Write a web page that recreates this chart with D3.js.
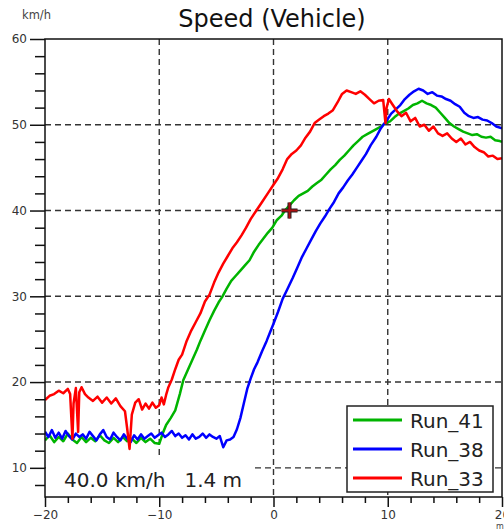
<!DOCTYPE html>
<html>
<head>
<meta charset="utf-8">
<script src="https://cdn.jsdelivr.net/npm/d3@7"></script>
<style>
    html, body { margin: 0; padding: 0; background: #fff; }
    svg { display: block; }
    text { font-family: "DejaVu Sans", Verdana, sans-serif; fill: #222; }
</style>
</head>
<body>
<div id="chart"></div>
<script>
// values: [distance m, speed km/h]
const run41 = [
    [-20, 13.2], [-19.6, 13.8], [-19.2, 13.0], [-18.8, 13.6], [-18.4, 13.1], [-18.0, 14.0], [-17.6, 13.3],
    [-17.2, 12.9], [-16.8, 13.6], [-16.4, 13.0], [-16.0, 13.5], [-15.6, 13.1], [-15.2, 13.8], [-14.8, 13.2],
    [-14.4, 12.9], [-14.0, 13.5], [-13.6, 13.0], [-13.2, 13.6], [-12.8, 13.1], [-12.4, 13.4], [-12.0, 12.9],
    [-11.6, 13.5], [-11.2, 13.0], [-10.8, 13.4], [-10.4, 12.9], [-10.0, 12.8], [-9.7, 14.0], [-9.4, 15.0],
    [-9.0, 15.8], [-8.6, 16.7], [-8.2, 18.6], [-7.9, 20.2], [-7.5, 21.4], [-7.1, 22.6], [-6.7, 23.8],
    [-6.4, 24.8], [-6.0, 26.0], [-5.6, 27.2], [-5.2, 28.3], [-4.8, 29.3], [-4.5, 29.9], [-4.1, 30.9],
    [-3.7, 31.8], [-3.3, 32.4], [-2.9, 33.0], [-2.5, 33.6], [-2.1, 34.2], [-1.7, 35.2], [-1.3, 36.0],
    [-0.9, 36.7], [-0.5, 37.4], [-0.1, 38.0], [0.3, 38.9], [0.7, 39.4], [1.0, 40.0], [1.4, 40.6],
    [1.8, 41.2], [2.2, 41.7], [2.6, 42.0], [3.0, 42.3], [3.4, 42.8], [3.8, 43.2], [4.2, 43.6],
    [4.6, 44.2], [5.0, 44.8], [5.4, 45.3], [5.8, 45.9], [6.2, 46.4], [6.6, 47.0], [7.0, 47.6],
    [7.4, 48.1], [7.8, 48.6], [8.2, 48.9], [8.6, 49.2], [9.0, 49.5], [9.4, 49.8], [9.8, 50.2],
    [10.2, 50.4], [10.6, 50.9], [11.0, 51.3], [11.4, 51.6], [11.8, 51.9], [12.2, 52.3], [12.6, 52.5],
    [13.0, 52.8], [13.4, 52.5], [13.8, 52.3], [14.2, 52.0], [14.6, 51.4], [15.0, 50.8], [15.4, 50.2],
    [15.8, 49.8], [16.2, 49.5], [16.6, 49.2], [17.0, 49.0], [17.4, 48.8], [17.8, 48.9], [18.2, 48.6],
    [18.6, 48.5], [19.0, 48.6], [19.4, 48.2], [19.8, 48.1], [20, 48.0]
];

const run38 = [
    [-20, 14.2], [-19.7, 13.6], [-19.4, 14.4], [-19.1, 13.5], [-18.8, 14.1], [-18.5, 13.4], [-18.2, 14.3],
    [-17.9, 13.7], [-17.6, 13.3], [-17.3, 14.0], [-17.0, 13.6], [-16.7, 13.9], [-16.4, 13.4], [-16.1, 14.2],
    [-15.8, 13.7], [-15.5, 13.2], [-15.2, 13.9], [-14.9, 14.4], [-14.6, 13.6], [-14.3, 13.3], [-14.0, 14.1],
    [-13.7, 13.6], [-13.4, 13.2], [-13.1, 13.9], [-12.8, 13.4], [-12.5, 13.0], [-12.2, 13.8], [-11.9, 13.3],
    [-11.6, 13.9], [-11.3, 13.4], [-11.0, 13.7], [-10.7, 14.0], [-10.4, 13.5], [-10.1, 13.8], [-9.8, 14.1],
    [-9.5, 13.6], [-9.2, 13.9], [-8.9, 14.3], [-8.6, 13.7], [-8.3, 14.0], [-8.0, 13.5], [-7.7, 13.8],
    [-7.4, 13.3], [-7.1, 13.9], [-6.8, 13.4], [-6.5, 13.6], [-6.2, 14.0], [-5.9, 13.5], [-5.6, 13.9],
    [-5.3, 13.6], [-5.0, 13.4], [-4.7, 13.7], [-4.4, 12.4], [-4.1, 13.2], [-3.8, 13.3], [-3.5, 13.6],
    [-3.2, 14.5], [-2.9, 15.8], [-2.6, 17.5], [-2.3, 19.2], [-2.0, 20.4], [-1.7, 21.5], [-1.4, 22.3],
    [-1.0, 23.6], [-0.6, 24.8], [-0.3, 25.8], [0, 26.8], [0.4, 28.2], [0.8, 29.7], [1.2, 30.8],
    [1.7, 32.2], [2.1, 33.4], [2.5, 34.6], [2.9, 35.6], [3.3, 36.6], [3.7, 37.6], [4.1, 38.5],
    [4.5, 39.3], [4.9, 40.2], [5.3, 41.0], [5.7, 42.0], [6.1, 42.7], [6.5, 43.5], [6.9, 44.2],
    [7.3, 45.0], [7.7, 45.8], [8.1, 46.6], [8.5, 47.6], [9.0, 48.6], [9.4, 49.6], [9.9, 50.5],
    [10.3, 51.3], [10.7, 51.8], [11.1, 52.3], [11.5, 53.0], [11.9, 53.5], [12.3, 53.9], [12.7, 54.2],
    [13.1, 54.0], [13.5, 53.6], [13.9, 53.8], [14.3, 53.4], [14.7, 53.3], [15.1, 53.0], [15.5, 52.8],
    [15.9, 52.4], [16.3, 52.1], [16.7, 51.4], [17.1, 51.0], [17.5, 50.8], [17.9, 50.9], [18.3, 50.6],
    [18.7, 50.5], [19.1, 50.2], [19.5, 49.8], [20, 49.6]
];

const run33 = [
    [-20, 17.9], [-19.6, 18.4], [-19.2, 18.6], [-18.8, 19.0], [-18.4, 18.7], [-18.0, 19.2], [-17.8, 18.6],
    [-17.7, 16.0], [-17.6, 13.4], [-17.5, 17.5], [-17.3, 19.3], [-17.1, 14.2], [-17.0, 18.8], [-16.8, 19.4],
    [-16.5, 18.6], [-16.2, 18.2], [-15.8, 17.8], [-15.4, 18.3], [-15.0, 17.6], [-14.6, 18.2], [-14.2, 17.5],
    [-13.8, 18.1], [-13.4, 17.2], [-13.0, 16.6], [-12.8, 14.5], [-12.6, 12.2], [-12.4, 16.2], [-12.1, 17.6],
    [-11.8, 18.0], [-11.5, 16.8], [-11.2, 17.5], [-10.9, 16.9], [-10.6, 17.6], [-10.3, 17.0], [-10.0, 17.3],
    [-9.8, 18.2], [-9.6, 17.4], [-9.4, 18.5], [-9.2, 19.4], [-8.9, 20.3], [-8.6, 21.5], [-8.3, 22.6],
    [-8.0, 23.2], [-7.6, 24.8], [-7.2, 26.0], [-6.8, 27.0], [-6.4, 28.0], [-6.0, 29.4], [-5.6, 30.2],
    [-5.2, 31.6], [-4.8, 32.8], [-4.4, 33.8], [-4.0, 34.7], [-3.6, 35.6], [-3.2, 36.3], [-2.8, 37.1],
    [-2.4, 38.0], [-2.0, 39.0], [-1.5, 40.0], [-1.0, 41.0], [-0.5, 42.0], [0, 43.0], [0.4, 43.8],
    [0.8, 44.8], [1.2, 46.0], [1.6, 46.6], [2.0, 47.0], [2.4, 47.6], [2.8, 48.5], [3.2, 49.2],
    [3.6, 50.2], [4.0, 50.6], [4.4, 51.0], [4.8, 51.3], [5.2, 51.7], [5.6, 52.6], [6.0, 53.6],
    [6.4, 54.0], [6.8, 53.8], [7.2, 53.6], [7.6, 53.9], [8.0, 53.5], [8.4, 53.0], [8.8, 52.5],
    [9.2, 52.8], [9.6, 52.9], [9.8, 50.2], [9.9, 52.0], [10.1, 53.0], [10.4, 52.4], [10.8, 51.6],
    [11.2, 51.0], [11.6, 51.4], [12.0, 50.4], [12.4, 50.8], [12.8, 49.8], [13.2, 50.0], [13.6, 49.3],
    [14.0, 49.8], [14.4, 49.0], [14.8, 48.7], [15.2, 49.0], [15.6, 48.4], [16.0, 48.0], [16.4, 48.4],
    [16.8, 47.7], [17.2, 48.0], [17.6, 47.4], [18.0, 47.0], [18.4, 46.8], [18.8, 46.3], [19.2, 46.4],
    [19.6, 46.0], [20, 46.1]
];

const seriesNames = ["Run_41", "Run_38", "Run_33"];
const seriesColors = ["#00b400", "#0000ff", "#ff0000"];
const xMajorTicks = [-20, -10, 0, 10, 20];
const yMajorTicks = [10, 20, 30, 40, 50, 60];
const cursor = [1.4, 40.0];
const cursorText = "40.0 km/h   1.4 m";

const CONFIG = {
    width: 504,
    height: 530,
    margin: { top: 39, right: 2, bottom: 33, left: 45 },
    xDomain: [-20, 20],
    yDomain: [6.6, 60]
};

function drawChart() {
    const { width, height, margin } = CONFIG;
    const x = d3.scaleLinear().domain(CONFIG.xDomain).range([margin.left, width - margin.right]);
    const y = d3.scaleLinear().domain(CONFIG.yDomain).range([height - margin.bottom, margin.top]);

    const svg = d3.select("#chart").append("svg")
        .attr("width", width)
        .attr("height", height);

    // title + unit
    svg.append("text")
        .attr("x", 272).attr("y", 27)
        .attr("text-anchor", "middle")
        .style("font-size", "24px")
        .style("fill", "#111")
        .text("Speed (Vehicle)");
    svg.append("text")
        .attr("x", 22).attr("y", 19)
        .style("font-size", "11.5px")
        .style("fill", "#444")
        .text("km/h");

    // grid
    const grid = svg.append("g")
        .attr("stroke", "#333")
        .attr("stroke-width", 1.4)
        .attr("stroke-dasharray", "6,4");
    grid.selectAll("line.v")
        .data(xMajorTicks.slice(1, -1))
        .join("line")
        .attr("x1", d => x(d)).attr("x2", d => x(d))
        .attr("y1", y.range()[1]).attr("y2", y.range()[0]);
    grid.selectAll("line.h")
        .data(yMajorTicks.slice(0, -1))
        .join("line")
        .attr("x1", x.range()[0]).attr("x2", x.range()[1])
        .attr("y1", d => y(d)).attr("y2", d => y(d));

    // curves
    svg.append("clipPath").attr("id", "plot-clip")
        .append("rect")
        .attr("x", margin.left).attr("y", margin.top)
        .attr("width", width - margin.left - margin.right)
        .attr("height", height - margin.top - margin.bottom);

    const line = d3.line().x(d => x(d[0])).y(d => y(d[1]));
    svg.append("g")
        .attr("clip-path", "url(#plot-clip)")
        .selectAll("path")
        .data([run41, run38, run33])
        .join("path")
        .attr("fill", "none")
        .attr("stroke", (d, i) => seriesColors[i])
        .attr("stroke-width", 2.5)
        .attr("stroke-linejoin", "round")
        .attr("d", line);

    // cursor marker
    const cx = x(cursor[0]), cy = y(cursor[1]);
    const plus = `M${cx - 8},${cy}H${cx + 8}M${cx},${cy - 8}V${cy + 8}`;
    svg.append("path").attr("d", plus).attr("stroke", "#222").attr("stroke-width", 4);
    svg.append("path").attr("d", plus).attr("stroke", "#b01010").attr("stroke-width", 2);

    // readout
    svg.append("rect")
        .attr("x", margin.left + 1).attr("y", 457)
        .attr("width", 207).attr("height", 39)
        .attr("fill", "#fff");
    svg.append("text")
        .attr("x", 64).attr("y", 487)
        .style("font-size", "20px")
        .style("fill", "#222")
        .attr("xml:space", "preserve")
        .text(cursorText);

    // legend
    const legend = svg.append("g").attr("transform", "translate(347,406)");
    legend.append("rect")
        .attr("width", 146).attr("height", 86)
        .attr("fill", "#fff")
        .attr("stroke", "#222")
        .attr("stroke-width", 1.5);
    const items = legend.selectAll("g.item")
        .data(seriesNames)
        .join("g")
        .attr("transform", (d, i) => `translate(0,${14 + i * 29})`);
    items.append("line")
        .attr("x1", 6).attr("x2", 55)
        .attr("stroke", (d, i) => seriesColors[i])
        .attr("stroke-width", 3);
    items.append("text")
        .attr("x", 63).attr("y", 8)
        .style("font-size", "20px")
        .text(d => d);

    // axes
    const yMinor = d3.range(8, 60, 2).filter(v => !yMajorTicks.includes(v));
    const xMinor = d3.range(-18, 20, 2).filter(v => !xMajorTicks.includes(v));

    const styleAxis = g => {
        g.select(".domain").remove();
        g.selectAll("line").attr("stroke", "#111").attr("stroke-width", 1.5);
        g.selectAll("text").style("font-size", "12px").style("fill", "#333")
            .style("font-family", "'DejaVu Sans', Verdana, sans-serif");
    };

    svg.append("g")
        .attr("transform", `translate(${margin.left},0)`)
        .call(d3.axisLeft(y).tickValues(yMajorTicks).tickSize(15).tickPadding(3))
        .call(styleAxis);
    svg.append("g")
        .attr("transform", `translate(${margin.left},0)`)
        .call(d3.axisLeft(y).tickValues(yMinor).tickSize(10).tickFormat(""))
        .call(styleAxis);
    svg.append("g")
        .attr("transform", `translate(0,${height - margin.bottom})`)
        .call(d3.axisBottom(x).tickValues(xMajorTicks).tickSize(10).tickPadding(3))
        .call(styleAxis);
    svg.append("g")
        .attr("transform", `translate(0,${height - margin.bottom})`)
        .call(d3.axisBottom(x).tickValues(xMinor).tickSize(6).tickFormat(""))
        .call(styleAxis);

    svg.append("text")
        .attr("x", 496).attr("y", 529)
        .style("font-size", "8px")
        .style("fill", "#444")
        .text("m");

    // frame
    svg.append("rect")
        .attr("x", margin.left).attr("y", margin.top)
        .attr("width", width - margin.left - margin.right)
        .attr("height", height - margin.top - margin.bottom)
        .attr("fill", "none")
        .attr("stroke", "#111")
        .attr("stroke-width", 1.5);
}

document.addEventListener("DOMContentLoaded", drawChart);
</script>
</body>
</html>
